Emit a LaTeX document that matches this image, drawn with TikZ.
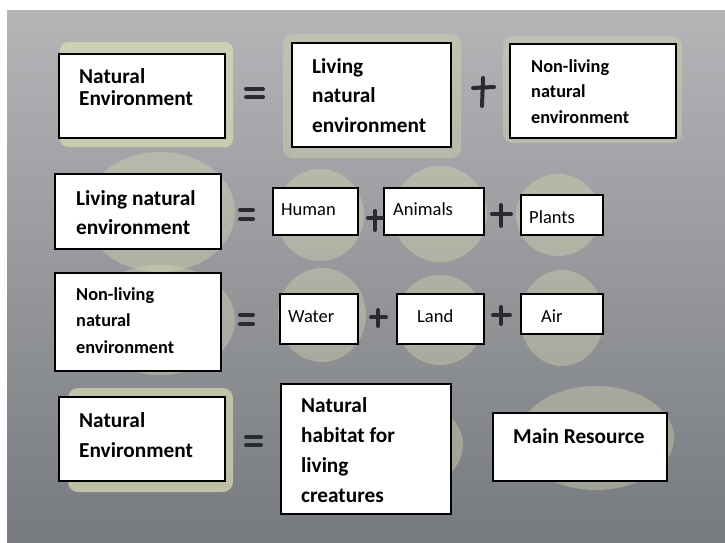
\documentclass[tikz,border=0pt]{standalone}
\usepackage{fontspec}
\setmainfont{Carlito}
\definecolor{boardtop}{HTML}{B4B5B7}
\definecolor{boardmid}{HTML}{A0A2A5}
\definecolor{boardbot}{HTML}{777A7F}
\definecolor{patch}{HTML}{DADBB2}
\definecolor{ink}{HTML}{2A2A33}
\tikzset{
  card/.style={draw=black, line width=1.6pt, fill=white, inner sep=0pt, anchor=north west},
  btxt/.style 2 args={font=\bfseries\fontsize{#1}{#2}\selectfont, align=left, anchor=base west, inner sep=0pt},
  rtxt/.style={font=\fontsize{18.5}{22}\selectfont, anchor=base west, inner sep=0pt},
  penstroke/.style={draw=ink, line width=4pt, line cap=round},
  blob/.style={fill=patch, fill opacity=0.7, draw=none},
  discblob/.style={fill=patch, fill opacity=0.38, draw=none}
}
\begin{document}
\begin{tikzpicture}[x=1pt,y=-1pt]
\useasboundingbox (0,0) rectangle (725,542);
\fill[white] (0,0) rectangle (725,542);
\shade[top color=boardtop, middle color=boardmid, bottom color=boardbot] (7,10) rectangle (725,542);

% pale paper patches behind the cards
\fill[blob, rounded corners=8pt] (60,42) rectangle (233,147);
\fill[discblob, rounded corners=10pt] (283,34) rectangle (461,158);
\fill[discblob, rounded corners=10pt] (503,36) rectangle (682,143);
\fill[discblob] (160,212) ellipse [x radius=75, y radius=60];
\fill[discblob] (320,215) ellipse [x radius=44, y radius=46];
\fill[discblob] (440,214) ellipse [x radius=47, y radius=48];
\fill[discblob] (558,215) ellipse [x radius=42, y radius=41];
\fill[discblob] (160,320) ellipse [x radius=75, y radius=55];
\fill[discblob] (322,315) ellipse [x radius=44, y radius=47];
\fill[discblob] (440,320) ellipse [x radius=44, y radius=45];
\fill[discblob] (562,318) ellipse [x radius=42, y radius=48];
\fill[blob, rounded corners=10pt] (68,388) rectangle (233,492);
\fill[discblob] (375,445) ellipse [x radius=88, y radius=55];
\fill[discblob] (596,438) ellipse [x radius=78, y radius=52];

% row 1
\node[card, minimum width=166, minimum height=84] (a1) at (58,53) {};
\node[btxt={21.3}{22}] (a1t) at (79,105) {Natural\\Environment};
\node[card, minimum width=159, minimum height=104] (a2) at (291,42) {};
\node[btxt={21.3}{29.5}] (a2t) at (312,132) {Living\\natural\\environment};
\node[card, minimum width=166, minimum height=94] (a3) at (509,43) {};
\node[btxt={18.3}{25.5}] (a3t) at (531,123) {Non-living\\natural\\environment};

% row 2
\node[card, minimum width=166, minimum height=75] (b1) at (54,173) {};
\node[btxt={21.3}{29}] (b1t) at (76,234) {Living natural\\environment};
\node[card, minimum width=85, minimum height=47] (b2) at (272,187) {};
\node[rtxt] (b2t) at (281,215) {Human};
\node[card, minimum width=100, minimum height=47] (b3) at (383,187) {};
\node[rtxt] (b3t) at (393,215) {Animals};
\node[card, minimum width=82, minimum height=40] (b4) at (520,194) {};
\node[rtxt] (b4t) at (529,223) {Plants};

% row 3
\node[card, minimum width=166, minimum height=98] (c1) at (54,272) {};
\node[btxt={18.3}{26.5}] (c1t) at (76,353) {Non-living\\natural\\environment};
\node[card, minimum width=78, minimum height=50] (c2) at (279,293) {};
\node[rtxt] (c2t) at (288,322) {Water};
\node[card, minimum width=87, minimum height=50] (c3) at (396,293) {};
\node[rtxt] (c3t) at (417,322) {Land};
\node[card, minimum width=82, minimum height=40] (c4) at (520,293) {};
\node[rtxt] (c4t) at (541,322) {Air};

% row 4
\node[card, minimum width=166, minimum height=84] (d1) at (58,396) {};
\node[btxt={21.3}{30}] (d1t) at (79,457) {Natural\\Environment};
\node[card, minimum width=170, minimum height=130] (d2) at (280,383) {};
\node[btxt={21.3}{29.7}] (d2t) at (301,502) {Natural\\habitat for\\living\\creatures};
\node[card, minimum width=174, minimum height=68] (d3) at (492,412) {};
\node[btxt={21.3}{24}] (d3t) at (513,443) {Main Resource};

% hand-drawn equals signs
\draw[penstroke] (246,89) -- (263,89); \draw[penstroke] (246,97) -- (263,97);
\draw[penstroke] (240,210) -- (253,210); \draw[penstroke] (240,219) -- (253,219);
\draw[penstroke] (240,315) -- (253,315); \draw[penstroke] (240,324) -- (253,324);
\draw[penstroke] (246,437) -- (261,437); \draw[penstroke] (246,445) -- (261,445);

% hand-drawn plus signs
\draw[penstroke] (473,88) -- (494,87); \draw[penstroke] (483,78) -- (482,106);
\draw[penstroke] (368,218) -- (382,218); \draw[penstroke] (375,211) -- (375,230);
\draw[penstroke] (492,214) -- (511,214); \draw[penstroke] (501,205) -- (501,226);
\draw[penstroke] (371,317) -- (386,317); \draw[penstroke] (378,310) -- (378,326);
\draw[penstroke] (493,315) -- (510,315); \draw[penstroke] (501,307) -- (501,324);
\end{tikzpicture}
\end{document}
